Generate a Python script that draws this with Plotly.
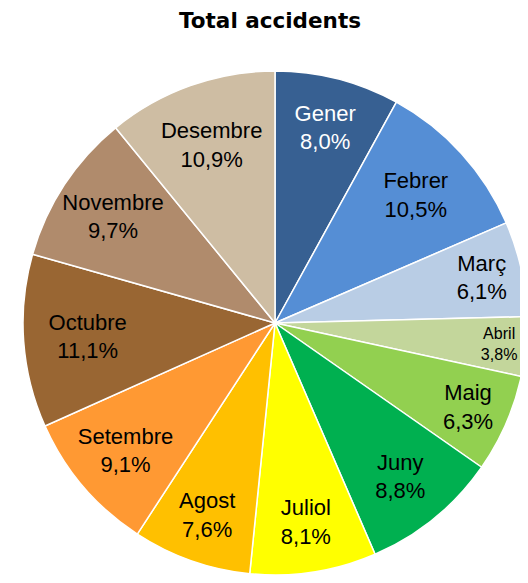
import plotly.graph_objects as go

months = ["Gener", "Febrer", "Març", "Abril", "Maig", "Juny", "Juliol",
          "Agost", "Setembre", "Octubre", "Novembre", "Desembre"]
shares = [8.0, 10.5, 6.1, 3.8, 6.3, 8.8, 8.1, 7.6, 9.1, 11.1, 9.7, 10.9]
colors = ["#376092", "#558ED5", "#B9CDE5", "#C3D69B", "#92D050", "#00B050",
          "#FFFF00", "#FFC000", "#FF9933", "#996633", "#B08B6C", "#CEBDA3"]
text_colors = ["white"] + ["black"] * 11

W, H = 520, 567
fig = go.Figure(go.Pie(
    labels=months,
    values=shares,
    sort=False,
    direction="clockwise",
    rotation=0,
    marker=dict(colors=colors, line=dict(color="white", width=1.5)),
    texttemplate="%{label}<br>%{value:.1f}%",
    textposition="inside",
    insidetextorientation="horizontal",
    insidetextfont=dict(family="Liberation Sans", size=22, color=text_colors),
    hoverinfo="label+percent",
    showlegend=False,
    domain=dict(x=[0, 1], y=[0, 1]),
))

fig.update_layout(
    width=W, height=H,
    margin=dict(l=15, r=1, t=63, b=0, pad=0),
    separators=",.",
    paper_bgcolor="white",
    title=dict(text="<b>Total accidents</b>",
               font=dict(family="DejaVu Sans", size=21.5, color="black"),
               x=262 / W, xanchor="center",
               y=1 - 12 / H, yanchor="middle", yref="container"),
)

fig.write_html("out.html")
